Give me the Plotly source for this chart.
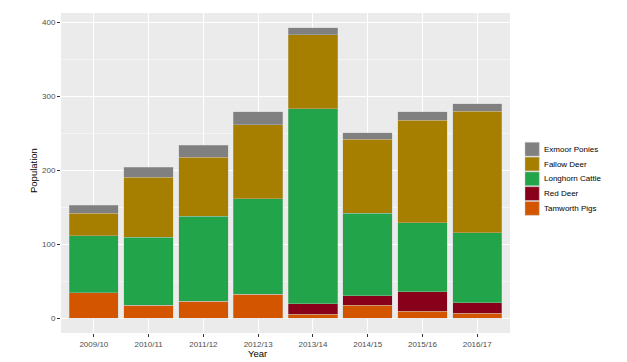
import plotly.graph_objects as go

years = ["2009/10", "2010/11", "2011/12", "2012/13", "2013/14", "2014/15", "2015/16", "2016/17"]
tamworth_pigs = [35, 18, 23, 33, 6, 18, 10, 7]
red_deer = [0, 0, 0, 0, 14, 13, 26, 14]
longhorn_cattle = [77, 92, 115, 129, 263, 111, 93, 95]
fallow_deer = [30, 81, 80, 100, 100, 100, 139, 164]
exmoor_ponies = [11, 13, 16, 17, 10, 9, 11, 10]

series = [
    ("Tamworth Pigs", tamworth_pigs, "#D45500"),
    ("Red Deer", red_deer, "#89001A"),
    ("Longhorn Cattle", longhorn_cattle, "#22A44A"),
    ("Fallow Deer", fallow_deer, "#A67F00"),
    ("Exmoor Ponies", exmoor_ponies, "#808080"),
]

W, H = 627, 362
L, R, T, B = 61, 117, 13, 29

fig = go.Figure()
for name, vals, col in series:
    fig.add_trace(go.Bar(
        x=years, y=vals, name=name, showlegend=False,
        marker=dict(color=col, line=dict(color="rgba(200,200,200,0.6)", width=0.6)),
    ))

# Legend drawn as shapes/annotations (ggplot-style compact keys)
shapes = []
annotations = []
pw, ph = W - L - R, H - T - B
def px_to_paper_x(px):
    return (px - L) / pw
def px_to_paper_y(py):
    return (H - B - py) / ph

legend_items = list(reversed(series))
top0 = 142.3
pitch = 14.8
for i, (name, vals, col) in enumerate(legend_items):
    y0 = top0 + i * pitch
    shapes.append(dict(
        type="rect", xref="paper", yref="paper",
        x0=px_to_paper_x(525), x1=px_to_paper_x(539.3),
        y0=px_to_paper_y(y0 + 13.8), y1=px_to_paper_y(y0),
        fillcolor=col, line=dict(color="rgba(200,200,200,0.8)", width=0.6),
    ))
    annotations.append(dict(
        xref="paper", yref="paper", x=px_to_paper_x(541.5), y=px_to_paper_y(y0 + 6.9),
        text=name, showarrow=False, xanchor="left", yanchor="middle",
        font=dict(size=8, color="#000000"),
    ))

annotations.append(dict(
    xref="paper", yref="paper", x=px_to_paper_x(257), y=px_to_paper_y(353),
    text="Year", showarrow=False, xanchor="center", yanchor="middle",
    font=dict(size=9.5, color="#000000"),
))
annotations.append(dict(
    xref="paper", yref="paper", x=px_to_paper_x(33), y=px_to_paper_y(171),
    text="Population", showarrow=False, xanchor="center", yanchor="middle", textangle=-90,
    font=dict(size=9.5, color="#000000"),
))

fig.update_layout(
    barmode="stack",
    bargap=0.1,
    width=W, height=H,
    margin=dict(l=L, r=R, t=T, b=B, autoexpand=False),
    paper_bgcolor="white",
    plot_bgcolor="#EBEBEB",
    font=dict(family="Liberation Sans, Arial, sans-serif", size=8, color="#4D4D4D"),
    showlegend=False,
    shapes=shapes,
    annotations=annotations,
    xaxis=dict(
        automargin=False,
        range=[-0.6, 7.6],
        showgrid=True, gridcolor="white", gridwidth=1,
        ticks="outside", ticklen=3, tickcolor="#333333",
        tickfont=dict(size=8, color="#4D4D4D"),
        zeroline=False,
    ),
    yaxis=dict(
        automargin=False,
        range=[-19.65, 412.65],
        tickvals=[0, 100, 200, 300, 400],
        showgrid=True, gridcolor="white", gridwidth=1,
        minor=dict(tickvals=[50, 150, 250, 350], showgrid=True, gridcolor="#F5F5F5", gridwidth=0.5, ticks=""),
        ticks="outside", ticklen=3, tickcolor="#333333",
        tickfont=dict(size=8, color="#4D4D4D"),
        zeroline=False,
    ),
)

fig.write_html(
    "out.html",
    config={"displayModeBar": False},
    post_script="document.body.style.margin='0px';document.body.style.overflow='hidden';",
)
